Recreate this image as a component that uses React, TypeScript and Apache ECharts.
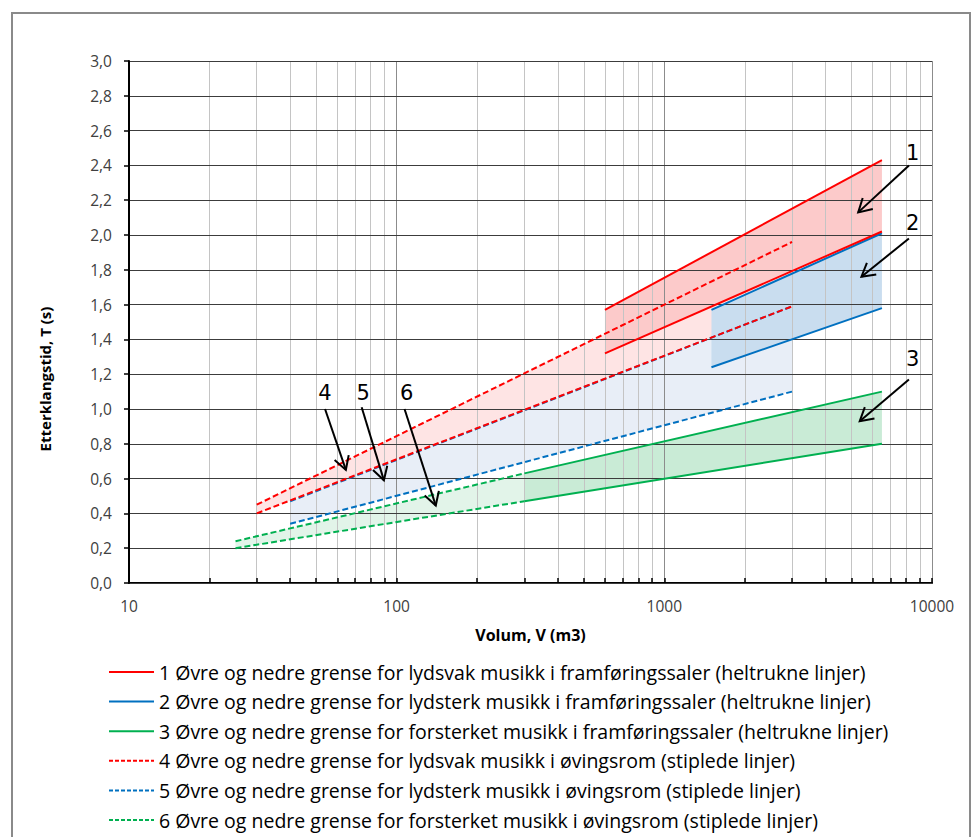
import React, { useEffect, useRef } from 'react';
import * as echarts from 'echarts';

// Volume axis (m3), logarithmic
const volumeMin = 10;
const volumeMax = 10000;
// Reverberation time axis (s)
const timeMin = 0;
const timeMax = 3.0;
const timeStep = 0.2;

// 1 – lydsvak musikk, framføringssaler (solid)
const hallQuietV = [600, 6500];
const hallQuietUpper = [1.57, 2.43];
const hallQuietLower = [1.32, 2.02];
// 2 – lydsterk musikk, framføringssaler (solid)
const hallLoudV = [1500, 6500];
const hallLoudUpper = [1.57, 2.01];
const hallLoudLower = [1.24, 1.58];
// 3 – forsterket musikk, framføringssaler (solid)
const hallAmpV = [300, 6500];
const hallAmpUpper = [0.63, 1.1];
const hallAmpLower = [0.47, 0.8];
// 4 – lydsvak musikk, øvingsrom (dashed)
const roomQuietV = [30, 3000];
const roomQuietUpper = [0.45, 1.96];
const roomQuietLower = [0.4, 1.59];
// 5 – lydsterk musikk, øvingsrom (dashed)
const roomLoudV = [40, 3000];
const roomLoudUpper = [0.47, 1.59];
const roomLoudLower = [0.34, 1.1];
// 6 – forsterket musikk, øvingsrom (dashed)
const roomAmpV = [25, 300];
const roomAmpUpper = [0.24, 0.63];
const roomAmpLower = [0.2, 0.47];

const legendNames = [
  '1 Øvre og nedre grense for lydsvak musikk i framføringssaler (heltrukne linjer)',
  '2 Øvre og nedre grense for lydsterk musikk i framføringssaler (heltrukne linjer)',
  '3 Øvre og nedre grense for forsterket musikk i framføringssaler (heltrukne linjer)',
  '4 Øvre og nedre grense for lydsvak musikk i øvingsrom (stiplede linjer)',
  '5 Øvre og nedre grense for lydsterk musikk i øvingsrom (stiplede linjer)',
  '6 Øvre og nedre grense for forsterket musikk i øvingsrom (stiplede linjer)',
];

// Numbered call-outs: label position and arrow (volume, time)
const calloutText = ['1', '2', '3', '4', '5', '6'];
const calloutLabelV = [8470, 8470, 8470, 54, 75, 109];
const calloutLabelT = [2.47, 2.07, 1.29, 1.09, 1.09, 1.09];
const arrowFromV = [8200, 8200, 8200, 54, 74, 107];
const arrowFromT = [2.4, 1.98, 1.17, 1.0, 1.01, 1.0];
const arrowToV = [5300, 5450, 5370, 64.6, 89.6, 140];
const arrowToT = [2.13, 1.76, 0.93, 0.65, 0.59, 0.445];

const RED = '#FF0000';
const BLUE = '#0070C0';
const GREEN = '#00B050';

type Band = {
  name: string;
  v: number[];
  up: number[];
  lo: number[];
  color: string;
  fill: string;
  dashed: boolean;
};

export default function App() {
  const ref = useRef<HTMLDivElement>(null);

  useEffect(() => {
    document.body.style.margin = '0';
    const chart = echarts.init(ref.current as HTMLDivElement, null, { renderer: 'svg' });

    const bands: Band[] = [
      { name: legendNames[0], v: hallQuietV, up: hallQuietUpper, lo: hallQuietLower, color: RED, fill: '#FCCACA', dashed: false },
      { name: legendNames[1], v: hallLoudV, up: hallLoudUpper, lo: hallLoudLower, color: BLUE, fill: '#C9DDEF', dashed: false },
      { name: legendNames[2], v: hallAmpV, up: hallAmpUpper, lo: hallAmpLower, color: GREEN, fill: '#C9EBD6', dashed: false },
      { name: legendNames[3], v: roomQuietV, up: roomQuietUpper, lo: roomQuietLower, color: RED, fill: '#FEE4E4', dashed: true },
      { name: legendNames[4], v: roomLoudV, up: roomLoudUpper, lo: roomLoudLower, color: BLUE, fill: '#E8EEF7', dashed: true },
      { name: legendNames[5], v: roomAmpV, up: roomAmpUpper, lo: roomAmpLower, color: GREEN, fill: '#E2F4E9', dashed: true },
    ];

    // Light (rehearsal room) areas first, performance hall areas over them
    const fillOrder = [3, 4, 5, 0, 1, 2].map((i) => bands[i]);
    // Boundary lines, hall limits last so the red lower limit lies on top of the blue one
    const lineOrder = [5, 4, 3, 2, 1, 0].map((i) => bands[i]);

    const fillSeries = {
      type: 'custom',
      z: 1,
      silent: true,
      clip: true,
      encode: { x: [0, 1], y: [2, 3, 4, 5] },
      data: fillOrder.map((b) => [b.v[0], b.v[1], b.up[0], b.up[1], b.lo[0], b.lo[1]]),
      renderItem: (params: any, api: any) => {
        const b = fillOrder[params.dataIndex];
        const p0 = api.coord([api.value(0), api.value(2)]);
        const p1 = api.coord([api.value(1), api.value(3)]);
        const p2 = api.coord([api.value(1), api.value(5)]);
        const p3 = api.coord([api.value(0), api.value(4)]);
        return {
          type: 'polygon',
          shape: { points: [p0, p1, p2, p3] },
          style: { fill: b.fill, stroke: 'none' },
        };
      },
    };

    const lineSeries: any[] = [];
    lineOrder.forEach((b) => {
      [b.up, b.lo].forEach((vals) => {
        lineSeries.push({
          type: 'line',
          name: b.name,
          z: 4,
          symbol: 'none',
          showSymbol: false,
          silent: true,
          data: [
            [b.v[0], vals[0]],
            [b.v[1], vals[1]],
          ],
          itemStyle: { color: b.color },
          lineStyle: { color: b.color, width: 2, type: b.dashed ? [6, 3] : 'solid' },
        });
      });
    });

    const calloutSeries = {
      type: 'custom',
      z: 6,
      silent: true,
      encode: { x: [0, 2], y: [1, 3] },
      data: calloutText.map((_, i) => [arrowFromV[i], arrowFromT[i], arrowToV[i], arrowToT[i]]),
      renderItem: (params: any, api: any) => {
        const i = params.dataIndex;
        const s = api.coord([api.value(0), api.value(1)]);
        const e = api.coord([api.value(2), api.value(3)]);
        const lab = api.coord([calloutLabelV[i], calloutLabelT[i]]);
        const ang = Math.atan2(e[1] - s[1], e[0] - s[0]);
        const L = 15;
        const spread = 0.52;
        const w1 = [e[0] - L * Math.cos(ang - spread), e[1] - L * Math.sin(ang - spread)];
        const w2 = [e[0] - L * Math.cos(ang + spread), e[1] - L * Math.sin(ang + spread)];
        return {
          type: 'group',
          children: [
            {
              type: 'line',
              shape: { x1: s[0], y1: s[1], x2: e[0], y2: e[1] },
              style: { stroke: '#000', lineWidth: 2 },
            },
            {
              type: 'polyline',
              shape: { points: [w1, e, w2] },
              style: { stroke: '#000', lineWidth: 2, fill: 'none' },
            },
            {
              type: 'text',
              x: lab[0],
              y: lab[1],
              style: {
                text: calloutText[i],
                fill: '#000',
                font: '21px "DejaVu Sans"',
                align: 'center',
                verticalAlign: 'middle',
              },
            },
          ],
        };
      },
    };

    const option: any = {
      animation: false,
      backgroundColor: '#fff',
      grid: { left: 129, top: 61, width: 803, height: 522, containLabel: false },
      xAxis: {
        type: 'log',
        logBase: 10,
        min: volumeMin,
        max: volumeMax,
        z: 2,
        name: 'Volum, V (m3)',
        nameLocation: 'middle',
        nameGap: 44,
        nameTextStyle: { fontFamily: 'Open Sans', fontWeight: 'bold', fontSize: 16, color: '#000' },
        axisLine: { show: true, onZero: false, lineStyle: { color: '#000', width: 2 } },
        axisTick: { show: true, inside: true, length: 5, lineStyle: { color: '#000', width: 1.5 } },
        minorTick: { show: true, splitNumber: 9, length: 5, lineStyle: { color: '#000', width: 1.5 } },
        axisLabel: {
          margin: 15,
          fontFamily: 'Open Sans',
          fontSize: 15.5,
          color: '#404040',
          formatter: (v: number) => String(Math.round(v)),
        },
        splitLine: { show: true, lineStyle: { color: '#8C8C8C', width: 1 } },
        minorSplitLine: { show: true, lineStyle: { color: '#C4C4C4', width: 1 } },
      },
      yAxis: {
        type: 'value',
        min: timeMin,
        max: timeMax,
        interval: timeStep,
        z: 3,
        axisLine: { show: true, lineStyle: { color: '#000', width: 2 } },
        axisTick: { show: true, inside: false, length: 5, lineStyle: { color: '#000', width: 1.5 } },
        axisLabel: {
          margin: 17,
          fontFamily: 'Open Sans',
          fontSize: 15.5,
          color: '#404040',
          formatter: (v: number) => v.toFixed(1).replace('.', ','),
        },
        splitLine: { show: true, lineStyle: { color: '#3C3C3C', width: 1 } },
      },
      legend: {
        orient: 'vertical',
        left: 108,
        top: 661,
        padding: 0,
        itemWidth: 45,
        itemHeight: 14,
        itemGap: 7.6,
        selectedMode: false,
        textStyle: { fontFamily: 'Open Sans', fontSize: 19.5, color: '#000', lineHeight: 22 },
        data: legendNames.map((n, i) => ({
          name: n,
          itemStyle: { opacity: 0 },
          lineStyle: { width: 2, type: i >= 3 ? [4, 2] : 'solid' },
        })),
      },
      graphic: [
        {
          type: 'rect',
          silent: true,
          shape: { x: 12, y: 13, width: 958, height: 840 },
          style: { fill: 'none', stroke: '#8A8A8A', lineWidth: 2 },
        },
        {
          type: 'text',
          silent: true,
          x: 45,
          y: 379,
          rotation: Math.PI / 2,
          style: {
            text: 'Etterklangstid, T (s)',
            font: 'bold 15px "Open Sans"',
            fill: '#000',
            align: 'center',
            verticalAlign: 'middle',
          },
        },
      ],
      series: [fillSeries, ...lineSeries, calloutSeries],
    };

    chart.setOption(option);
    return () => chart.dispose();
  }, []);

  return <div ref={ref} style={{ width: 974, height: 837 }} />;
}
